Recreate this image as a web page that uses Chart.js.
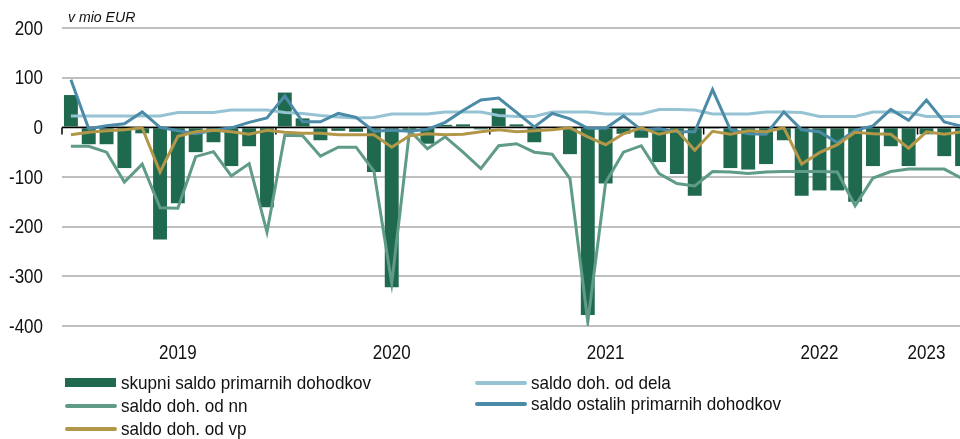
<!DOCTYPE html>
<html>
<head>
<meta charset="utf-8">
<script src="https://cdn.jsdelivr.net/npm/chart.js@4.4.1/dist/chart.umd.min.js"></script>
<style>
  html, body { margin: 0; padding: 0; background: #fff; overflow: hidden; }
  #wrap { position: relative; width: 980px; height: 439px; }
</style>
</head>
<body>
<div id="wrap"><canvas id="mainChart"></canvas></div>
<script>
// mesecne kategorije (zadnja je v izvirniku odrezana na desnem robu)
const months = [
  "2019-01","2019-02","2019-03","2019-04","2019-05","2019-06","2019-07","2019-08","2019-09","2019-10","2019-11","2019-12",
  "2020-01","2020-02","2020-03","2020-04","2020-05","2020-06","2020-07","2020-08","2020-09","2020-10","2020-11","2020-12",
  "2021-01","2021-02","2021-03","2021-04","2021-05","2021-06","2021-07","2021-08","2021-09","2021-10","2021-11","2021-12",
  "2022-01","2022-02","2022-03","2022-04","2022-05","2022-06","2022-07","2022-08","2022-09","2022-10","2022-11","2022-12",
  "2023-01","2023-02","2023-03"
];
const yearLabels = ["2019", "2020", "2021", "2022", "2023"];
const yearLabelMonths = ["2019-07", "2020-07", "2021-07", "2022-07", "2023-01"];

// v mio EUR
const skupni = [65,-34,-34,-82,-12,-226,-153,-50,-30,-78,-38,-161,
  70,18,-26,-7,-9,-90,-322,-6,-33,5,6,-4,
  38,6,-30,-2,-54,-378,-113,-13,-21,-70,-94,-138,
  -1,-82,-85,-74,-26,-138,-127,-127,-150,-78,-38,-78,
  -14,-58,-78];
const dela = [23,23,23,23,23,23,30,30,30,35,35,35,
  30,28,24,21,19,20,27,27,27,31,31,31,
  24,22,22,31,31,31,27,27,27,36,36,35,
  27,27,27,31,31,30,22,22,22,31,31,30,
  22,22,22];
const nn = [-38,-38,-50,-110,-74,-162,-163,-59,-49,-98,-73,-211,
  -16,-17,-58,-40,-40,-88,-314,-6,-43,-19,-50,-83,
  -37,-33,-50,-54,-103,-392,-111,-50,-37,-93,-113,-118,
  -89,-90,-93,-90,-89,-89,-89,-90,-158,-102,-89,-84,
  -84,-84,-103];
const ostalih = [96,-3,3,7,31,0,-7,-13,-6,-1,10,19,
  63,11,11,28,20,-8,-6,-8,-4,10,34,55,
  59,30,1,28,17,-2,-2,23,-5,-3,-9,-9,
  76,-5,-13,-14,31,-5,-9,-31,-6,3,36,14,
  55,11,2];
const vp = [-15,-10,-7,-5,-1,-90,-18,-9,-6,-9,-14,-6,
  -10,-12,-12,-15,-15,-15,-40,-17,-13,-15,-14,-9,
  -5,-9,-7,-5,-1,-19,-35,-13,-1,-14,-6,-46,
  -8,-14,-7,-9,-1,-74,-51,-35,-10,-13,-14,-42,
  -9,-14,-9];

const FONT = "'Liberation Sans', Arial, sans-serif";

// pisava v izvirniku je malo ozja, zato jo stisnemo vodoravno
function narrowText(ctx, text, x, y, size, squeeze, align, italic) {
  ctx.save();
  ctx.font = (italic ? "italic " : "") + size + "px " + FONT;
  ctx.textAlign = align;
  ctx.textBaseline = "middle";
  ctx.fillStyle = "#111";
  ctx.translate(x, y);
  ctx.scale(squeeze, 1);
  ctx.fillText(text, 0, 0);
  ctx.restore();
}

// crna os pri 0 in oznake mej med leti
const zeroAxis = {
  id: "zeroAxis",
  afterDatasetDraw(chart, args) {
    if (args.index !== 0) return;
    const { ctx, chartArea, scales } = chart;
    const y0 = Math.round(scales.y.getPixelForValue(0)) + 0.5;
    const step = scales.x.getPixelForValue(1) - scales.x.getPixelForValue(0);
    ctx.save();
    ctx.strokeStyle = "#000";
    ctx.lineWidth = 1.5;
    ctx.beginPath();
    ctx.moveTo(chartArea.left, y0);
    ctx.lineTo(chartArea.right, y0);
    months.forEach((m, i) => {
      if (m.endsWith("-01")) {
        const x = scales.x.getPixelForValue(i) - step / 2;
        ctx.moveTo(x, y0);
        ctx.lineTo(x, y0 + 7);
      }
    });
    ctx.stroke();
    ctx.restore();
  }
};

// oznake osi, naslov enote in legenda v dveh stolpcih
const extras = {
  id: "extras",
  afterDraw(chart) {
    const { ctx, scales, chartArea } = chart;

    scales.y.ticks.forEach((t) => {
      narrowText(ctx, String(t.value), 43, scales.y.getPixelForValue(t.value) + 1, 20, 0.85, "right");
    });
    yearLabelMonths.forEach((m, k) => {
      const x = scales.x.getPixelForValue(months.indexOf(m));
      narrowText(ctx, yearLabels[k], x, chartArea.bottom + 27, 20, 0.85, "center");
    });

    narrowText(ctx, "v mio EUR", 68, 18, 15, 0.94, "left", true);

    const slots = [[65, 383], [475, 383], [65, 406], [475, 404], [65, 429]];
    chart.data.datasets.forEach((ds, i) => {
      const [x, y] = slots[i];
      ctx.save();
      if (ds.type === "bar") {
        ctx.fillStyle = ds.backgroundColor;
        ctx.fillRect(x, y - 5, 51, 9);
      } else {
        ctx.strokeStyle = ds.borderColor;
        ctx.lineWidth = 4;
        ctx.lineCap = "round";
        ctx.beginPath();
        ctx.moveTo(x + 2, y);
        ctx.lineTo(x + 50, y);
        ctx.stroke();
      }
      ctx.restore();
      narrowText(ctx, ds.label, x + 56, y + 1, 19, 0.9, "left");
    });
  }
};

function renderChart() {
  const ctx = document.getElementById("mainChart").getContext("2d");
  const line = (label, data, color, order) => ({
    type: "line",
    label: label,
    data: data,
    borderColor: color,
    backgroundColor: color,
    borderWidth: 3,
    pointRadius: 0,
    tension: 0,
    order: order,
  });

  new Chart(ctx, {
    data: {
      labels: months,
      datasets: [
        {
          type: "bar",
          label: "skupni saldo primarnih dohodkov",
          data: skupni,
          backgroundColor: "#1f6a4f",
          barPercentage: 0.78,
          categoryPercentage: 1.0,
          order: 10,
        },
        line("saldo doh. od dela", dela, "#95c3d3", 5),
        line("saldo doh. od nn", nn, "#5f9b86", 4),
        line("saldo ostalih primarnih dohodkov", ostalih, "#4b8ba7", 3),
        line("saldo doh. od vp", vp, "#b39749", 2),
      ],
    },
    options: {
      responsive: true,
      maintainAspectRatio: false,
      animation: false,
      layout: { padding: { top: 28, right: 9, left: 0, bottom: 0 } },
      plugins: {
        legend: { display: false },
        tooltip: { enabled: false },
      },
      scales: {
        x: {
          type: "category",
          offset: true,
          grid: { display: false, drawTicks: false },
          border: { display: false },
          afterFit: (scale) => { scale.height = 113; },
          ticks: { display: false, autoSkip: false },
        },
        y: {
          min: -400,
          max: 200,
          afterFit: (scale) => { scale.width = 62; },
          grid: { color: "#bfbfbf", lineWidth: 2, drawTicks: false },
          border: { display: false },
          ticks: { display: false, stepSize: 100 },
        },
      },
    },
    plugins: [zeroAxis, extras],
  });
}

window.onload = renderChart;
</script>
</body>
</html>
